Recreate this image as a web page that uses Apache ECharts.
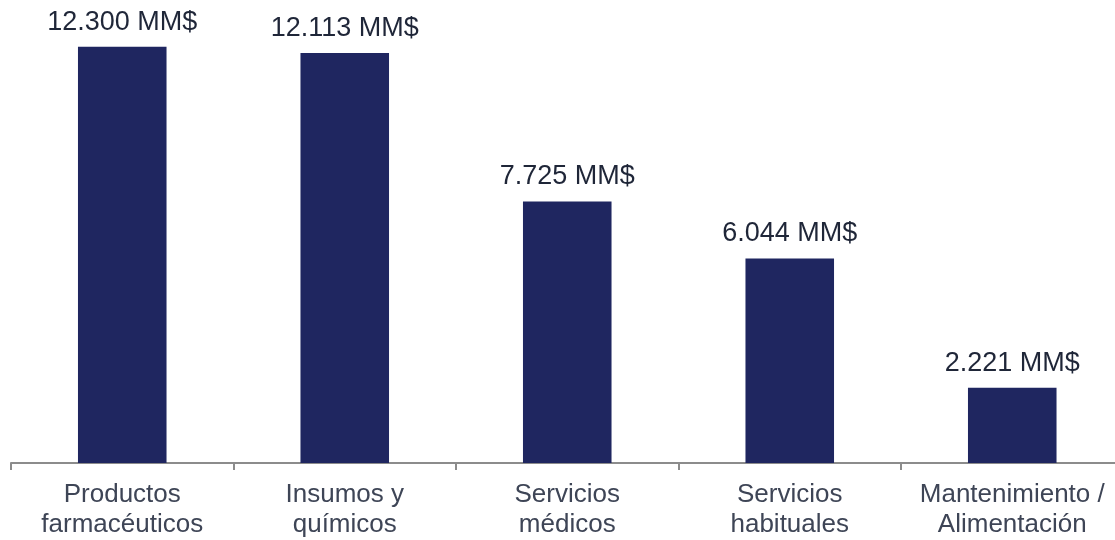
<!DOCTYPE html>
<html><head><meta charset="utf-8">
<script src="https://cdn.jsdelivr.net/npm/echarts@6/dist/echarts.min.js"></script>
<style>html,body{margin:0;padding:0;background:#fff;overflow:hidden}#c{width:1130px;height:540px}</style>
</head><body><div id="c"></div>
<script>
const categories = ['Productos\nfarmacéuticos', 'Insumos y\nquímicos', 'Servicios\nmédicos', 'Servicios\nhabituales', 'Mantenimiento /\nAlimentación'];
const values = [12300, 12113, 7725, 6044, 2221];
const chart = echarts.init(document.getElementById('c'), null, {renderer: 'canvas'});
chart.setOption({
  animation: false,
  grid: {left: 11, top: 23, width: 1112.5, bottom: 77, containLabel: false},
  xAxis: {
    type: 'category', data: categories,
    axisLine: {lineStyle: {color: '#8c8c8c', width: 2}},
    axisTick: {show: true, length: 7, lineStyle: {color: '#8c8c8c', width: 2}},
    axisLabel: {color: '#3e4556', fontFamily: 'Liberation Sans, Arial, sans-serif', fontSize: 26, lineHeight: 30, margin: 17, interval: 0}
  },
  yAxis: {type: 'value', min: 0, max: 13000, show: false, splitLine: {show: false}},
  series: [{
    type: 'bar', data: values, barWidth: '39.8%',
    itemStyle: {color: '#1f2660'},
    label: {
      show: true, position: 'top', distance: 11,
      color: '#1f2638', fontFamily: 'Liberation Sans, Arial, sans-serif', fontSize: 27,
      formatter: p => p.value.toLocaleString('de-DE') + ' MM$'
    }
  }]
});
</script></body></html>
